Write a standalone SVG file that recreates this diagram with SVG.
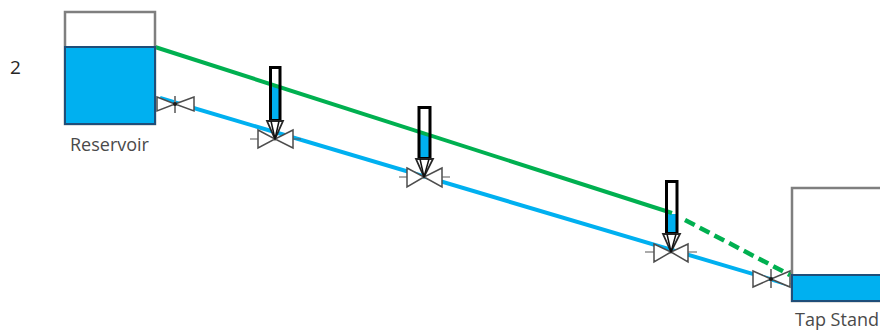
<svg xmlns="http://www.w3.org/2000/svg" width="880" height="331" viewBox="0 0 880 331">
<style>
text{font-family:"Open Sans","Noto Sans",sans-serif;font-size:18px;fill:#4a4a4a}
.tank{fill:#fff;stroke:#7f7f7f;stroke-width:2.5}
.water{fill:#00b0f0;stroke:#1f4e79;stroke-width:2}
.valve{fill:#fff;stroke:#4d4d4d;stroke-width:1.500;stroke-linejoin:miter}
.stub{fill:none;stroke:#595959;stroke-width:1.2}
.stem{fill:none;stroke:#808080;stroke-width:2}
.hub{fill:#1a1a1a}
.tube{fill:none;stroke:#000;stroke-width:3}
.tf{fill:#fff}
.tw{fill:#00b0f0}
.arr{fill:#fff;stroke:#262626;stroke-width:1.800}
.inner{fill:none;stroke:#111;stroke-width:1.5}
.blue{stroke:#00b0f0;stroke-width:4;fill:none}
.green{stroke:#00b050;stroke-width:4;fill:none}
</style>
<g id="gauge-fills">
<rect class="tf" x="270.500" y="67.500" width="9.500" height="53"/>
<rect class="tw" x="271" y="87" width="8.500" height="33"/>
<rect class="tf" x="419" y="107.500" width="11" height="51"/>
<rect class="tw" x="420" y="134" width="9" height="24"/>
<rect class="tf" x="666.500" y="181.500" width="10.500" height="52"/>
<rect class="tw" x="667" y="214" width="9.500" height="20"/>
</g>
<g id="connectors">
<line class="blue" x1="160" y1="98" x2="790" y2="285"/>
<line class="green" x1="155" y1="47" x2="672" y2="213"/>
</g>
<g id="reservoir">
<rect class="tank" x="65" y="12" width="90" height="112"/>
<rect class="water" x="65" y="47" width="90" height="77"/>
<text x="70" y="151">Reservoir</text>
</g>
<g id="tapstand">
<rect class="tank" x="792" y="188" width="92" height="113"/>
<rect class="water" x="792" y="275" width="92" height="26"/>
<text x="795" y="326">Tap Stand</text>
</g>
<g id="valve1">
<path class="valve" d="M157 97L175 104L157 111ZM194 97L175 104L194 111Z"/>
<line class="stem" x1="175" y1="96" x2="175" y2="113"/>
<circle class="hub" cx="175" cy="104" r="2"/>
</g>
<g id="gauge1">
<path class="valve" d="M258 130L275 139L258 148ZM293 130L275 139L293 148Z"/>
<path class="stub" d="M250 139H258M293 139H301"/>
<rect class="tube" x="270.500" y="67.500" width="9.500" height="53"/>
<path class="arr" d="M267 121H283L275 139Z"/>
<path class="inner" d="M271 121L275 139L279 121"/>
</g>
<g id="gauge2">
<path class="valve" d="M407 168L424 177L407 187ZM442 168L424 177L442 187Z"/>
<path class="stub" d="M399 177H407M442 177H450"/>
<rect class="tube" x="419" y="107.500" width="11" height="51"/>
<path class="arr" d="M416 159H433L424 177Z"/>
<path class="inner" d="M420 159L424 177L429 159"/>
</g>
<g id="gauge3">
<path class="valve" d="M654 244L671 252L654 262ZM688 244L671 252L688 262Z"/>
<path class="stub" d="M645 252H654M688 252H697"/>
<rect class="tube" x="666.500" y="181.500" width="10.500" height="52"/>
<path class="arr" d="M663 234H680L671 252Z"/>
<path class="inner" d="M667 234L671 252L676 234"/>
</g>
<g id="valve2">
<path class="valve" d="M753 271L771 279L753 287ZM790 271L771 279L790 287Z"/>
<line class="stem" x1="771" y1="269" x2="771" y2="288"/>
<circle class="hub" cx="771" cy="279" r="2"/>
</g>
<g id="dashed-connector">
<line class="green" x1="685" y1="220" x2="790" y2="275" stroke-dasharray="11 5.600" style="stroke-width:4.500"/>
</g>
<g id="label"><text x="10" y="74" style="font-size:19px;fill:#262626">2</text></g>
</svg>
